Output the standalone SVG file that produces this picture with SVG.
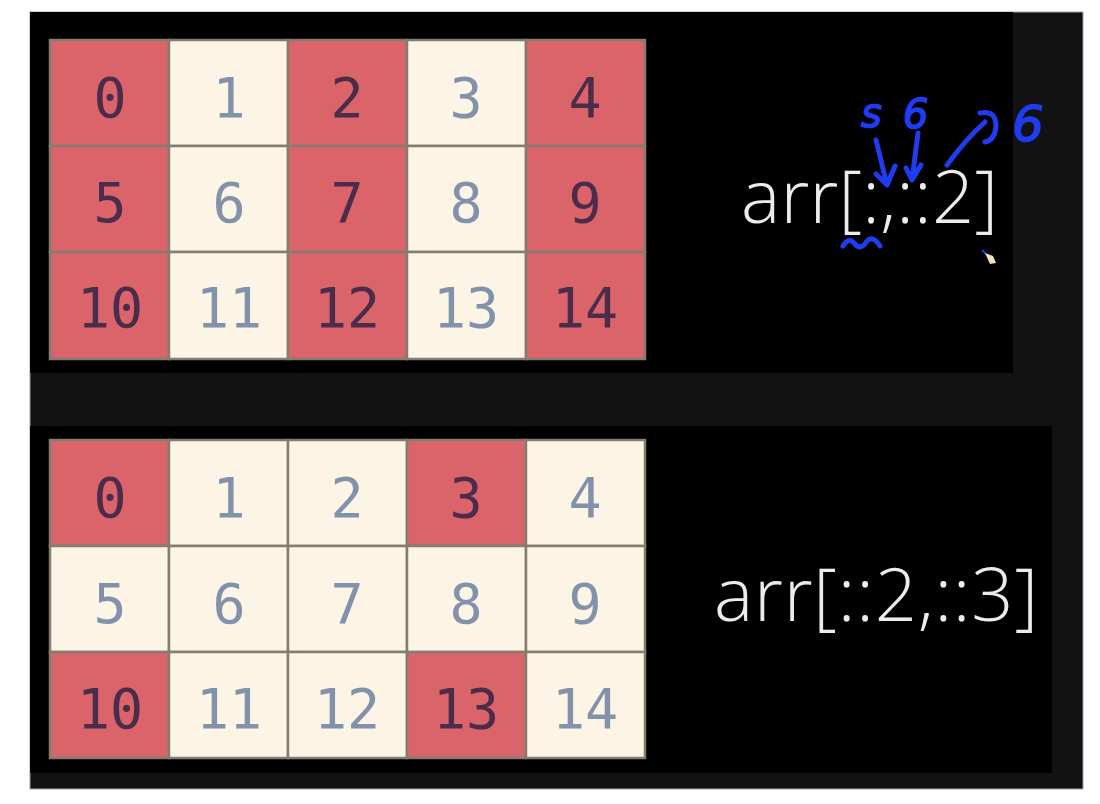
<svg xmlns="http://www.w3.org/2000/svg" width="1100" height="804" viewBox="0 0 1100 804">
<defs>
<style>
.r{fill:#da646a;stroke:#857c70;stroke-width:2.5}
.c{fill:#fcf4e4;stroke:#857c70;stroke-width:2.5}
.dr{font-family:"DejaVu Sans Mono","Liberation Mono",monospace;font-size:55px;fill:#4b2d4b;text-anchor:middle}
.dc{font-family:"DejaVu Sans Mono","Liberation Mono",monospace;font-size:55px;fill:#8292aa;text-anchor:middle}
.code{font-family:"Open Sans","Noto Sans","Liberation Sans",sans-serif;font-weight:300;font-size:74px;fill:#ececec}
.ink{fill:none;stroke:#1f3cf0;stroke-width:5;stroke-linecap:round;stroke-linejoin:round}
.hand{font-family:"DejaVu Sans","Liberation Sans",sans-serif;font-style:italic;fill:#1f3cf0;stroke:#1f3cf0;stroke-width:1.5}
</style>
</defs>
<rect width="1100" height="804" fill="#ffffff"/>
<rect x="30" y="12" width="1053" height="777" fill="#121212" stroke="#a0a0a0" stroke-width="1"/>
<rect x="30" y="12" width="983" height="361" fill="#000000"/>
<rect x="30" y="426" width="1022" height="347" fill="#000000"/>

<g id="top-grid">
<g id="t0"><rect class="r" x="50" y="40" width="119" height="106"/><text class="dr" x="110" y="117">0</text></g>
<g id="t1"><rect class="c" x="169" y="40" width="119" height="106"/><text class="dc" x="229" y="117">1</text></g>
<g id="t2"><rect class="r" x="288" y="40" width="119" height="106"/><text class="dr" x="347" y="117">2</text></g>
<g id="t3"><rect class="c" x="407" y="40" width="119" height="106"/><text class="dc" x="466" y="117">3</text></g>
<g id="t4"><rect class="r" x="526" y="40" width="119" height="106"/><text class="dr" x="585" y="117">4</text></g>
<g id="t5"><rect class="r" x="50" y="146" width="119" height="106"/><text class="dr" x="110" y="222">5</text></g>
<g id="t6"><rect class="c" x="169" y="146" width="119" height="106"/><text class="dc" x="229" y="222">6</text></g>
<g id="t7"><rect class="r" x="288" y="146" width="119" height="106"/><text class="dr" x="347" y="222">7</text></g>
<g id="t8"><rect class="c" x="407" y="146" width="119" height="106"/><text class="dc" x="466" y="222">8</text></g>
<g id="t9"><rect class="r" x="526" y="146" width="119" height="106"/><text class="dr" x="585" y="222">9</text></g>
<g id="t10"><rect class="r" x="50" y="252" width="119" height="107"/><text class="dr" x="110" y="327">10</text></g>
<g id="t11"><rect class="c" x="169" y="252" width="119" height="107"/><text class="dc" x="229" y="327">11</text></g>
<g id="t12"><rect class="r" x="288" y="252" width="119" height="107"/><text class="dr" x="347" y="327">12</text></g>
<g id="t13"><rect class="c" x="407" y="252" width="119" height="107"/><text class="dc" x="466" y="327">13</text></g>
<g id="t14"><rect class="r" x="526" y="252" width="119" height="107"/><text class="dr" x="585" y="327">14</text></g>
</g>

<g id="bottom-grid">
<g id="b0"><rect class="r" x="50" y="440" width="119" height="106"/><text class="dr" x="110" y="517">0</text></g>
<g id="b1"><rect class="c" x="169" y="440" width="119" height="106"/><text class="dc" x="229" y="517">1</text></g>
<g id="b2"><rect class="c" x="288" y="440" width="119" height="106"/><text class="dc" x="347" y="517">2</text></g>
<g id="b3"><rect class="r" x="407" y="440" width="119" height="106"/><text class="dr" x="466" y="517">3</text></g>
<g id="b4"><rect class="c" x="526" y="440" width="119" height="106"/><text class="dc" x="585" y="517">4</text></g>
<g id="b5"><rect class="c" x="50" y="546" width="119" height="106"/><text class="dc" x="110" y="623">5</text></g>
<g id="b6"><rect class="c" x="169" y="546" width="119" height="106"/><text class="dc" x="229" y="623">6</text></g>
<g id="b7"><rect class="c" x="288" y="546" width="119" height="106"/><text class="dc" x="347" y="623">7</text></g>
<g id="b8"><rect class="c" x="407" y="546" width="119" height="106"/><text class="dc" x="466" y="623">8</text></g>
<g id="b9"><rect class="c" x="526" y="546" width="119" height="106"/><text class="dc" x="585" y="623">9</text></g>
<g id="b10"><rect class="r" x="50" y="652" width="119" height="106"/><text class="dr" x="110" y="728">10</text></g>
<g id="b11"><rect class="c" x="169" y="652" width="119" height="106"/><text class="dc" x="229" y="728">11</text></g>
<g id="b12"><rect class="c" x="288" y="652" width="119" height="106"/><text class="dc" x="347" y="728">12</text></g>
<g id="b13"><rect class="r" x="407" y="652" width="119" height="106"/><text class="dr" x="466" y="728">13</text></g>
<g id="b14"><rect class="c" x="526" y="652" width="119" height="106"/><text class="dc" x="585" y="728">14</text></g>
</g>

<g id="label-top"><text class="code" x="741" y="223" textLength="257" lengthAdjust="spacing">arr[:,::2]</text></g>
<g id="label-bottom"><text class="code" x="714" y="621" textLength="324" lengthAdjust="spacing">arr[::2,::3]</text></g>

<g id="annotations">
<text class="hand" x="861" y="127" font-size="40">s</text>
<text class="hand" x="903" y="128" font-size="40">6</text>
<text class="hand" x="1012" y="141" font-size="50">6</text>
<path class="ink" d="M876,140 L887,185 M876,174 L887,185 L895,166"/>
<path class="ink" d="M918,133 L912,180 M906,168 L912,180 L921,165"/>
<path class="ink" d="M947,165 Q965,140 985,122 M980,113 Q996,110 996,126 Q995,140 985,142"/>
<path class="ink" d="M843,246 Q849,236 855,244 Q861,251 867,241 Q873,235 880,246"/>
<path d="M982,250 L986,254" stroke="#1f3cf0" stroke-width="2"/>
<path d="M985,253 L993,256 L996,263 L990,264 Z" fill="#f0e2b8"/>
</g>
</svg>
